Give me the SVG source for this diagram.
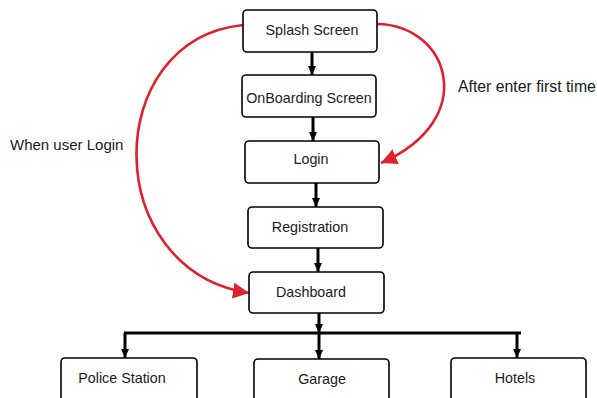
<svg xmlns="http://www.w3.org/2000/svg" width="597" height="398" viewBox="0 0 597 398">
<style>
.box{fill:#fff;stroke:#000;stroke-width:1.6}
.t{font-family:"Liberation Sans",Arial,sans-serif;font-size:14.3px;fill:#1a1a1a;text-anchor:middle}
.lbl{font-family:"Liberation Sans",Arial,sans-serif;font-size:15px;fill:#1a1a1a}
.blk{stroke:#000;stroke-width:3;fill:none}
.red{stroke:#e0202a;stroke-width:2.6;fill:none}
</style>
<defs>
<marker id="ab" markerUnits="userSpaceOnUse" markerWidth="10" markerHeight="10" refX="9" refY="5" orient="auto">
<path d="M0,1 L9,5 L0,9 Z" fill="#000"/>
</marker>
<marker id="ar" markerUnits="userSpaceOnUse" markerWidth="18" markerHeight="16" refX="16" refY="8" orient="auto">
<path d="M0,0 L16,8 L0,16 Z" fill="#e0202a"/>
</marker>
</defs>
<rect width="597" height="398" fill="#fff"/>
<g id="connectors">
<path class="blk" d="M312,52 V75" marker-end="url(#ab)"/>
<path class="blk" d="M313,117 V141" marker-end="url(#ab)"/>
<path class="blk" d="M316,183 V207" marker-end="url(#ab)"/>
<path class="blk" d="M318,248 V272" marker-end="url(#ab)"/>
<path class="blk" d="M319,313 V333" marker-end="url(#ab)"/>
<path class="blk" d="M124,333 H521"/>
<path class="blk" d="M125,333 V358" marker-end="url(#ab)"/>
<path class="blk" d="M319,333 V359" marker-end="url(#ab)"/>
<path class="blk" d="M517,333 V358" marker-end="url(#ab)"/>
<path class="red" d="M243,25 C100,40 100,270 249,293" marker-end="url(#ar)"/>
<path class="red" d="M377,24 C450,25 480,120 381,163" marker-end="url(#ar)"/>
</g>
<g id="splash"><rect class="box" x="243" y="10" width="134" height="42" rx="4"/><text class="t" x="312" y="35">Splash Screen</text></g>
<g id="onboarding"><rect class="box" x="242" y="75" width="134" height="42" rx="4"/><text class="t" x="309" y="103">OnBoarding Screen</text></g>
<g id="login"><rect class="box" x="245" y="141" width="134" height="42" rx="4"/><text class="t" x="311" y="164">Login</text></g>
<g id="registration"><rect class="box" x="248" y="207" width="135" height="41" rx="4"/><text class="t" x="310" y="232">Registration</text></g>
<g id="dashboard"><rect class="box" x="249" y="272" width="135" height="41" rx="4"/><text class="t" x="311" y="297">Dashboard</text></g>
<g id="police"><rect class="box" x="61" y="358" width="136" height="50" rx="4"/><text class="t" x="122" y="383">Police Station</text></g>
<g id="garage"><rect class="box" x="254" y="359" width="135" height="50" rx="4"/><text class="t" x="322" y="384">Garage</text></g>
<g id="hotels"><rect class="box" x="451" y="358" width="135" height="50" rx="4"/><text class="t" x="515" y="383">Hotels</text></g>
<g id="labels">
<text class="lbl" x="10" y="150">When user Login</text>
<text class="lbl" x="458" y="92" style="font-size:15.8px">After enter first time</text>
</g>
</svg>
